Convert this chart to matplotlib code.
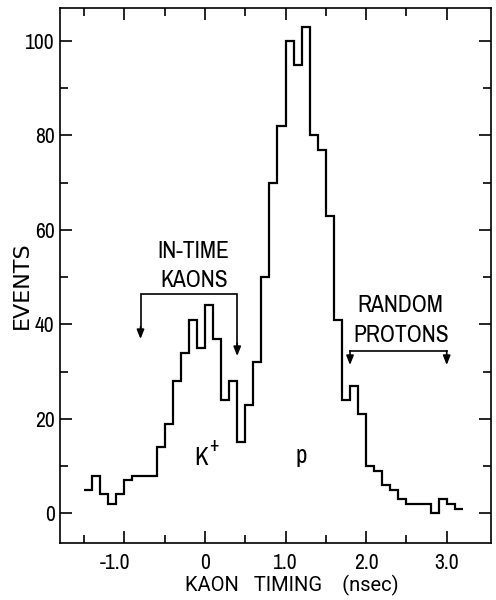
import numpy as np
import matplotlib
matplotlib.use("Agg")
import matplotlib.pyplot as plt
import matplotlib.transforms as mtransforms
from matplotlib.ticker import MultipleLocator, FixedLocator

# Kaon timing histogram, 0.1 ns bins starting at -1.5 ns
bin_start = -1.5
bin_width = 0.1
counts = [5, 8, 4, 2, 4, 7, 8, 8, 8, 14,
          19, 28, 34, 41, 35, 44, 37, 24, 28, 15,
          23, 32, 50, 70, 82, 100, 95, 103, 80, 77,
          63, 41, 24, 27, 21, 10, 9, 6, 5, 3,
          2, 2, 2, 0, 3, 2, 1]

x_ticks = [-1.0, 0.0, 1.0, 2.0, 3.0]
x_tick_labels = ["-1.0", "0", "1.0", "2.0", "3.0"]
y_ticks = [0, 20, 40, 60, 80, 100]
y_tick_labels = ["0", "20", "40", "60", "80", "100"]

# selection windows (ns)
in_time_window = (-0.8, 0.4)
random_window = (1.8, 3.0)

NARROW = ["Archivo Narrow", "DejaVu Sans"]
WIDE = ["Roboto", "DejaVu Sans"]

edges = bin_start + bin_width * np.arange(len(counts) + 1)

fig = plt.figure(figsize=(4.96, 6.0), dpi=100)
ax = fig.add_axes([0.12, 0.0945, 0.87, 0.8915])

ax.stairs(counts, edges, baseline=None, color="black", linewidth=1.6)

ax.set_xlim(-1.805, 3.55)
ax.set_ylim(-6.35, 106.9)

ax.xaxis.set_major_locator(FixedLocator(x_ticks))
ax.xaxis.set_minor_locator(FixedLocator([-1.5, -0.5, 0.5, 1.5, 2.5]))
ax.set_xticklabels(x_tick_labels)
ax.yaxis.set_major_locator(FixedLocator(y_ticks))
ax.yaxis.set_minor_locator(MultipleLocator(10))
ax.set_yticklabels(y_tick_labels)

ax.tick_params(which="both", direction="in", top=True, right=True,
               width=1.2, color="black")
ax.tick_params(which="major", length=8.5)
ax.tick_params(which="minor", length=5.5)
ax.tick_params(axis="x", which="major", pad=7)
ax.tick_params(axis="y", which="major", pad=3.5)
for lab in ax.get_xticklabels() + ax.get_yticklabels():
    lab.set_family(NARROW)
    lab.set_fontsize(15.5)

# let the minus sign of the negative label hang to the left of its tick
neg = ax.get_xticklabels()[0]
neg.set_transform(neg.get_transform() +
                  mtransforms.ScaledTranslation(-0.09, 0, fig.dpi_scale_trans))

for sp in ax.spines.values():
    sp.set_linewidth(1.2)

# axis titles
fig.text(22 / 496, 1 - 285 / 600, "EVENTS", rotation=90, ha="center",
         va="center", fontsize=16, family=["DejaVu Sans"])
fig.text(292 / 496, 1 - 585 / 600, "KAON   TIMING    (nsec)", ha="center",
         va="center", fontsize=14.5, family=WIDE)

# in-time kaon window
kx0, kx1 = in_time_window
ky = 46.5
ax.plot([kx0, kx0, kx1, kx1], [38.9, ky, ky, 35.3],
        color="black", linewidth=1.2, solid_joinstyle="miter")
arrow = dict(arrowstyle="-|>,head_length=0.55,head_width=0.22",
             color="black", linewidth=1.2, shrinkA=0, shrinkB=0)
ax.annotate("", xy=(kx0, 36.9), xytext=(kx0, 39.5), arrowprops=arrow)
ax.annotate("", xy=(kx1, 33.3), xytext=(kx1, 36.0), arrowprops=arrow)
ax.text(-0.14, 55.4, "IN-TIME", ha="center", va="center", fontsize=17,
        family=NARROW)
ax.text(-0.14, 49.3, "KAONS", ha="center", va="center", fontsize=17,
        family=NARROW)

# random proton window
rx0, rx1 = random_window
ry = 34.4
ax.plot([rx0, rx1], [ry, ry], color="black", linewidth=1.2)
ax.annotate("", xy=(rx0, 31.4), xytext=(rx0, ry), arrowprops=arrow)
ax.annotate("", xy=(rx1, 31.4), xytext=(rx1, ry), arrowprops=arrow)
ax.text(2.43, 44.1, "RANDOM", ha="center", va="center", fontsize=17,
        family=NARROW)
ax.text(2.43, 37.7, "PROTONS", ha="center", va="center", fontsize=17,
        family=NARROW)

# peak labels
ax.text(-0.05, 11.8, "K", ha="center", va="center", fontsize=18,
        family=NARROW)
ax.text(0.11, 14.3, "+", ha="center", va="center", fontsize=14,
        family=NARROW)
ax.text(1.20, 12.2, "p", ha="center", va="center", fontsize=18,
        family=NARROW)

fig.savefig("out.png", dpi=100, facecolor="white")
